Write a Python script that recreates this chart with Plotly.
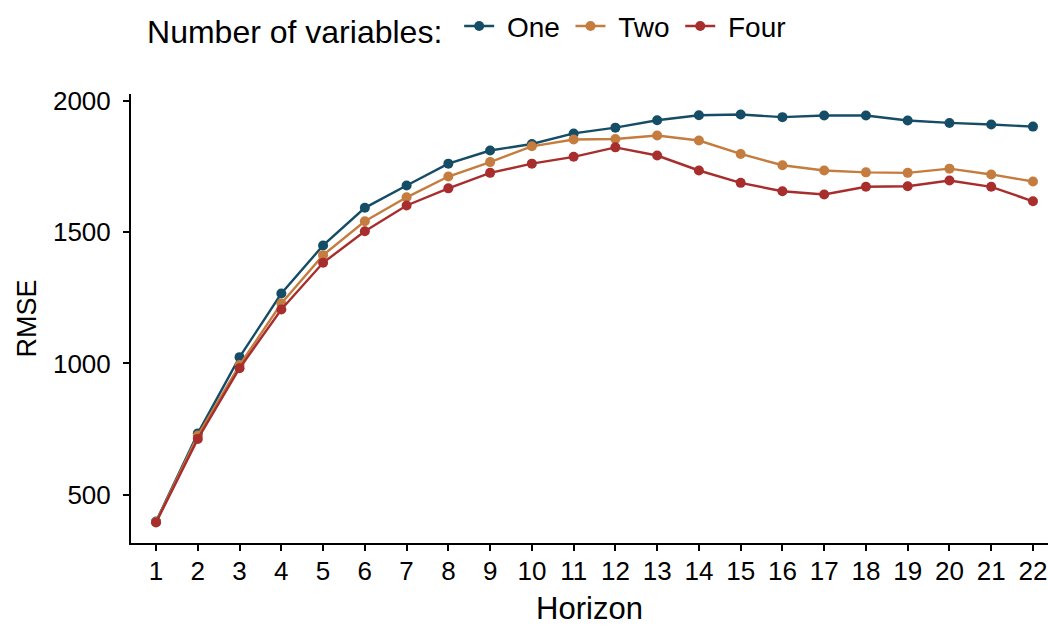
import plotly.graph_objects as go

horizon = list(range(1, 23))
one = [399, 734, 1024, 1266, 1449, 1592, 1677, 1760, 1810, 1835, 1875, 1897, 1925, 1944,
       1947, 1937, 1943, 1943, 1924, 1915, 1909, 1901]
two = [397, 726, 994, 1228, 1412, 1541, 1632, 1711, 1766, 1826, 1852, 1854, 1867, 1848,
       1797, 1754, 1734, 1727, 1725, 1741, 1719, 1692]
four = [395, 713, 982, 1205, 1383, 1503, 1601, 1666, 1725, 1760, 1786, 1822, 1791, 1734,
        1687, 1655, 1643, 1672, 1674, 1696, 1672, 1617]

series = [("One", one, "#154C66"), ("Two", two, "#C47C3F"), ("Four", four, "#A82E2D")]

NB = "\u00a0"
TH = "\u2009"

fig = go.Figure()
for name, vals, col in series:
    fig.add_trace(go.Scatter(
        x=horizon, y=vals, name=NB + name + TH, mode="lines+markers",
        line=dict(color=col, width=2.4),
        marker=dict(color=col, size=10),
    ))

font = "Liberation Sans, Arial, sans-serif"
fig.update_layout(
    width=1048, height=626,
    margin=dict(l=131, r=0, t=94, b=83),
    paper_bgcolor="white", plot_bgcolor="white",
    font=dict(family=font, color="black", size=26),
    showlegend=True,
    legend=dict(
        orientation="h", x=0.1384, xref="container", y=0.998, yref="container",
        xanchor="left", yanchor="top",
        title=dict(text="Number of variables:" + NB, font=dict(size=32), side="left"),
        font=dict(size=28),
        itemwidth=30,
    ),
    xaxis=dict(
        range=[0.4, 22.36], tickmode="array", tickvals=horizon,
        ticktext=[str(h) for h in horizon],
        showline=True, linecolor="black", linewidth=2,
        ticks="outside", ticklen=6, tickwidth=1.5, tickcolor="black",
        showgrid=False, zeroline=False, ticklabelstandoff=-2,
        automargin=False,
        title=dict(text="Horizon", font=dict(size=31), standoff=21),
        tickfont=dict(size=26),
    ),
    yaxis=dict(
        range=[317, 2025], tickvals=[500, 1000, 1500, 2000],
        showline=True, linecolor="black", linewidth=2,
        ticks="outside", ticklen=6, tickwidth=1.5, tickcolor="black",
        showgrid=False, zeroline=False, ticklabelstandoff=7,
        automargin=False,
        title=dict(text="RMSE", font=dict(size=27), standoff=9),
        tickfont=dict(size=26),
    ),
)

fig.write_html("out.html")
